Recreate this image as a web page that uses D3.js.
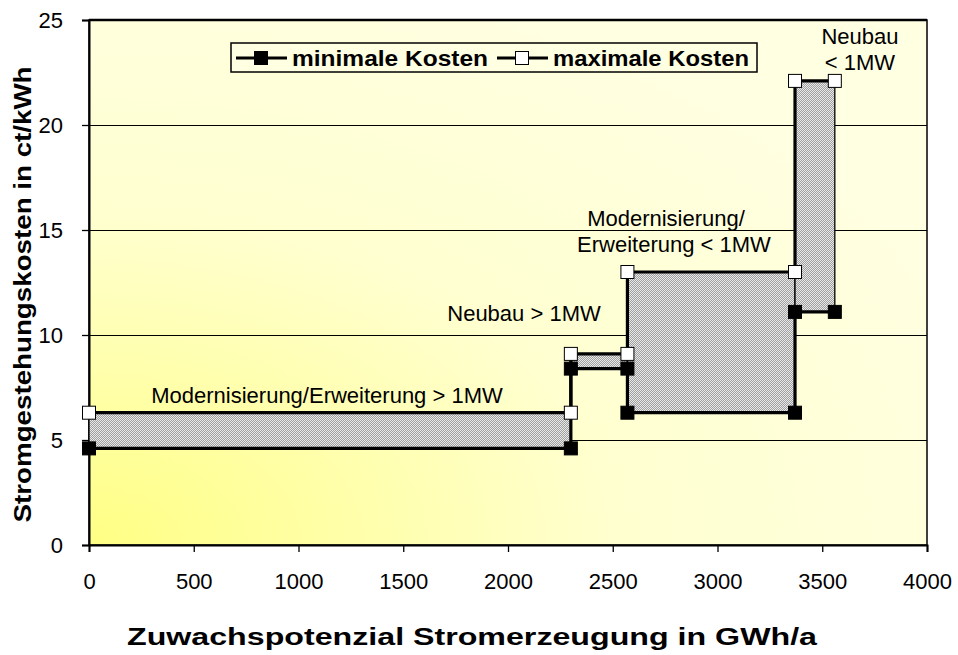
<!DOCTYPE html>
<html>
<head>
<meta charset="utf-8">
<script src="https://cdn.jsdelivr.net/npm/d3@7"></script>
<style>
  html, body { margin: 0; padding: 0; background: #fff; }
  svg { display: block; font-family: "Liberation Sans", Arial, sans-serif; }
</style>
</head>
<body>
<svg id="chart" width="958" height="655"></svg>
<script>
// ---- data ----
const segmentLabels = ["Modernisierung/Erweiterung > 1MW", "Neubau > 1MW", "Modernisierung/Erweiterung < 1MW", "Neubau < 1MW"];
const segStart = [0, 2300, 2570, 3370];
const segEnd = [2300, 2570, 3370, 3560];
const minCost = [4.6, 8.4, 6.3, 11.1];
const maxCost = [6.3, 9.1, 13.0, 22.1];
const seriesNames = ["minimale Kosten", "maximale Kosten"];
const xTicks = [0, 500, 1000, 1500, 2000, 2500, 3000, 3500, 4000];
const yTicks = [0, 5, 10, 15, 20, 25];
const xTitle = "Zuwachspotenzial Stromerzeugung in GWh/a";
const yTitle = "Stromgestehungskosten in ct/kWh";

// ---- layout ----
const L = 89, R = 927, T = 20, B = 545;
const svg = d3.select("#chart");
const x = d3.scaleLinear().domain([0, 4000]).range([L, R]);
const y = d3.scaleLinear().domain([0, 25]).range([B, T]);

const defs = svg.append("defs");
const grad = defs.append("radialGradient").attr("id", "bg")
  .attr("cx", 0).attr("cy", 1).attr("fx", 0).attr("fy", 1).attr("r", 1.15);
grad.append("stop").attr("offset", 0).attr("stop-color", "#ffff84");
grad.append("stop").attr("offset", 0.55).attr("stop-color", "#ffffd0");
grad.append("stop").attr("offset", 1).attr("stop-color", "#ffffe2");

const pat = defs.append("pattern").attr("id", "dots").attr("patternUnits", "userSpaceOnUse")
  .attr("width", 2).attr("height", 2);
pat.append("rect").attr("width", 2).attr("height", 2).attr("fill", "#a0a0a0");
pat.append("rect").attr("x", 0).attr("y", 0).attr("width", 1).attr("height", 1).attr("fill", "#e8e8e8");
pat.append("rect").attr("x", 1).attr("y", 1).attr("width", 1).attr("height", 1).attr("fill", "#e8e8e8");

// plot background
svg.append("rect").attr("x", L).attr("y", T).attr("width", R - L).attr("height", B - T)
  .attr("fill", "url(#bg)");

// gridlines
svg.append("g").selectAll("line").data(yTicks.filter(d => d > 0 && d < 25)).join("line")
  .attr("x1", L).attr("x2", R).attr("y1", d => Math.round(y(d)) + 0.5).attr("y2", d => Math.round(y(d)) + 0.5)
  .attr("stroke", "#000").attr("stroke-width", 1);

// frame
svg.append("rect").attr("x", L).attr("y", T).attr("width", R - L).attr("height", B - T)
  .attr("fill", "none").attr("stroke", "#000").attr("stroke-width", 1.5);
svg.append("line").attr("x1", L).attr("x2", R).attr("y1", T).attr("y2", T).attr("stroke", "#000").attr("stroke-width", 2.5);

// axes
const xAxis = d3.axisBottom(x).tickValues(xTicks).tickSize(7).tickPadding(21).tickFormat(d3.format("d"));
const gx = svg.append("g").attr("transform", `translate(0,${B})`).call(xAxis);
const yAxis = d3.axisLeft(y).tickValues(yTicks).tickSize(7).tickPadding(19).tickFormat(d3.format("d"));
const gy = svg.append("g").attr("transform", `translate(${L},0)`).call(yAxis);
[gx, gy].forEach(g => {
  g.select(".domain").attr("stroke", "#000").attr("stroke-width", 2);
  g.selectAll(".tick line").attr("stroke", "#000").attr("stroke-width", 1.3);
  g.selectAll(".tick text").attr("fill", "#000").style("font-size", "22px").style("font-family", "Liberation Sans, Arial, sans-serif");
});

// axis titles
svg.append("text").attr("x", 472).attr("y", 645).attr("text-anchor", "middle")
  .attr("textLength", 690).attr("lengthAdjust", "spacingAndGlyphs")
  .style("font-size", "23px").style("font-weight", "bold").text(xTitle);
svg.append("text").attr("transform", `translate(31,${(T + B) / 2 + 12}) rotate(-90)`).attr("text-anchor", "middle")
  .attr("textLength", 456).attr("lengthAdjust", "spacingAndGlyphs")
  .style("font-size", "23px").style("font-weight", "bold").text(yTitle);

// range boxes
const segs = segStart.map((s, i) => ({ s, e: segEnd[i], lo: minCost[i], hi: maxCost[i], label: segmentLabels[i] }));
svg.append("g").selectAll("rect").data(segs).join("rect")
  .attr("x", d => x(d.s)).attr("width", d => x(d.e) - x(d.s))
  .attr("y", d => y(d.hi)).attr("height", d => y(d.lo) - y(d.hi))
  .attr("fill", "url(#dots)").attr("stroke", "#000").attr("stroke-width", 1.3);

// series lines
function pts(vals) {
  const p = [];
  segs.forEach((d, i) => { p.push([d.s, vals[i]]); p.push([d.e, vals[i]]); });
  return p;
}
const line = d3.line().x(d => x(d[0])).y(d => y(d[1]));
const series = [{ name: seriesNames[0], p: pts(minCost), fill: "#000" }, { name: seriesNames[1], p: pts(maxCost), fill: "#fff" }];
series.forEach(s => {
  svg.append("path").attr("d", line(s.p)).attr("fill", "none").attr("stroke", "#000").attr("stroke-width", 3.2);
});
const M = 13;
series.forEach(s => {
  svg.append("g").selectAll("rect").data(s.p).join("rect")
    .attr("x", d => x(d[0]) - M / 2).attr("y", d => y(d[1]) - M / 2).attr("width", M).attr("height", M)
    .attr("fill", s.fill).attr("stroke", "#000").attr("stroke-width", 1);
});

// annotations
const ann = [
  { lines: ["Modernisierung/Erweiterung > 1MW"], cx: 327, cy: 403 },
  { lines: ["Neubau > 1MW"], cx: 524, cy: 321 },
  { lines: ["Modernisierung/", "Erweiterung < 1MW"], cx: 666, cy: 226 },
  { lines: ["Neubau", "< 1MW"], cx: 860, cy: 44 }
];
ann.forEach((a, i) => {
  const t = svg.append("text").attr("text-anchor", "middle").style("font-size", "22px").attr("fill", "#000");
  a.lines.forEach((ln, j) => {
    t.append("tspan").attr("x", a.cx + (i === 2 && j === 1 ? 8 : 0)).attr("y", a.cy + j * 26).text(ln);
  });
});

// legend
const lg = svg.append("g");
lg.append("rect").attr("x", 231).attr("y", 43).attr("width", 526).attr("height", 29)
  .attr("fill", "#ffffe2").attr("stroke", "#000").attr("stroke-width", 1.5);
const legX = [236, 497];
series.forEach((s, i) => {
  const g = lg.append("g").attr("transform", `translate(${legX[i]},58)`);
  g.append("line").attr("x1", 0).attr("x2", 51).attr("stroke", "#000").attr("stroke-width", 3.2);
  g.append("rect").attr("x", 25 - M / 2).attr("y", -M / 2).attr("width", M).attr("height", M)
    .attr("fill", s.fill).attr("stroke", "#000").attr("stroke-width", 1);
  g.append("text").attr("x", 56).attr("y", 8).attr("textLength", 196).attr("lengthAdjust", "spacingAndGlyphs")
    .style("font-size", "22px").style("font-weight", "bold").text(s.name);
});
</script>
</body>
</html>
